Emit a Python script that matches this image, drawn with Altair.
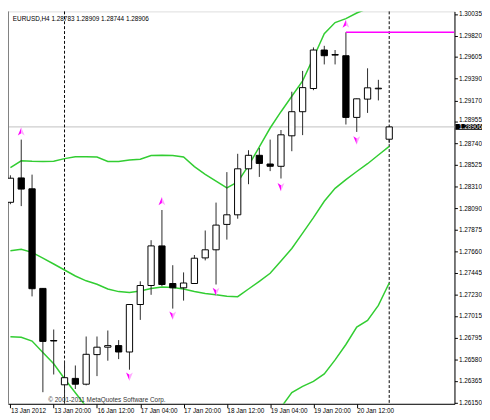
import json
import altair as alt
import pandas as pd

# ---------------- data ----------------
bar_index = list(range(36))
opens = [1.28152, 1.28396, 1.28287, 1.27291, 1.26770, 1.26327, 1.26391, 1.26333, 1.26629, 1.26703,
         1.26719, 1.26655, 1.27130, 1.27320, 1.27716, 1.27340, 1.27297, 1.27340, 1.27596, 1.27677,
         1.27931, 1.28027, 1.28487, 1.28622, 1.28535, 1.28512, 1.28817, 1.29058, 1.29290, 1.29675,
         1.29630, 1.29618, 1.29001, 1.29184, 1.29287, 1.28783]
highs = [1.28422, 1.28779, 1.28429, 1.27294, 1.26880, 1.26565, 1.26520, 1.26810, 1.26810, 1.26870,
         1.26774, 1.27135, 1.27362, 1.27773, 1.28075, 1.27523, 1.27451, 1.27625, 1.27870, 1.28149,
         1.28454, 1.28637, 1.28673, 1.28695, 1.28779, 1.28875, 1.29258, 1.29466, 1.29701, 1.29717,
         1.29675, 1.29852, 1.29190, 1.29492, 1.29377, 1.28909]
lows = [1.28133, 1.28114, 1.27211, 1.26253, 1.26430, 1.26130, 1.26285, 1.26321, 1.26414, 1.26568,
        1.26584, 1.26478, 1.26976, 1.27227, 1.27314, 1.27089, 1.27169, 1.27335, 1.27571, 1.27330,
        1.27779, 1.27988, 1.28333, 1.28406, 1.28464, 1.28390, 1.28663, 1.28824, 1.29273, 1.29531,
        1.29531, 1.28930, 1.28856, 1.29046, 1.29171, 1.28744]
closes = [1.28393, 1.28284, 1.27288, 1.26761, 1.26765, 1.26398, 1.26333, 1.26632, 1.26703, 1.26719,
          1.26655, 1.27130, 1.27320, 1.27716, 1.27330, 1.27297, 1.27345, 1.27593, 1.27677, 1.27924,
          1.28027, 1.28487, 1.28622, 1.28541, 1.28512, 1.28827, 1.29058, 1.29299, 1.29675, 1.29618,
          1.29624, 1.29001, 1.29187, 1.29297, 1.29293, 1.28906]

upper_band = [1.28499, 1.28567, 1.28562, 1.28560, 1.28562, 1.28589, 1.28608, 1.28608, 1.28605, 1.28560,
              1.28560, 1.28576, 1.28583, 1.28620, 1.28622, 1.28620, 1.28605, 1.28509, 1.28432, 1.28364,
              1.28297, 1.28355, 1.28519, 1.28707, 1.28895, 1.29058, 1.29213, 1.29367, 1.29598, 1.29839,
              1.29950, 1.29989, 1.30045, 1.30090, 1.30119, 1.30148]
middle_band = [1.27667, 1.27683, 1.27651, 1.27593, 1.27535, 1.27475, 1.27415, 1.27367, 1.27333, 1.27285,
               1.27259, 1.27249, 1.27265, 1.27290, 1.27304, 1.27299, 1.27285, 1.27261, 1.27241, 1.27227,
               1.27212, 1.27208, 1.27285, 1.27362, 1.27442, 1.27564, 1.27690, 1.27844, 1.27998, 1.28162,
               1.28292, 1.28379, 1.28460, 1.28538, 1.28625, 1.28711]
lower_band = [1.26808, 1.26803, 1.26764, 1.26649, 1.26538, 1.26388, 1.26248, 1.26109, 1.26061, 1.26010,
              1.25958, 1.25922, 1.25947, 1.25960, 1.25986, 1.25978, 1.25965, 1.26013, 1.26050, 1.26090,
              1.26100, 1.26061, 1.26051, 1.26017, 1.25989, 1.26100, 1.26250, 1.26311, 1.26361, 1.26436,
              1.26576, 1.26730, 1.26904, 1.26971, 1.27121, 1.27345]

up_arrow_bars = [1, 14, 31]
up_arrow_prices = [1.28856, 1.28159, 1.29933]
down_arrow_bars = [11, 15, 19, 25, 32]
down_arrow_prices = [1.26414, 1.27024, 1.27261, 1.28309, 1.28776]

separator_bars = [5, 35]
resistance_bar = 31
resistance_price = 1.29852
current_price = 1.28906

x_tick_bars = [0, 4, 8, 12, 16, 20, 24, 28, 32]
x_tick_labels = ["13 Jan 2012", "13 Jan 20:00", "16 Jan 12:00", "17 Jan 04:00", "17 Jan 20:00",
                 "18 Jan 12:00", "19 Jan 04:00", "19 Jan 20:00", "20 Jan 12:00"]
y_tick_values = [1.30035, 1.29820, 1.29605, 1.29390, 1.29170, 1.28955, 1.28740, 1.28525, 1.28310,
                 1.28090, 1.27875, 1.27660, 1.27445, 1.27230, 1.27015, 1.26795, 1.26580, 1.26365,
                 1.26150]

symbol = "EURUSD,H4"
copyright_text = "\u00a9 2001-2011 MetaQuotes Software Corp."

# ---------------- layout / style ----------------
X_MIN, X_MAX = -0.223, 41.03
Y_MIN, Y_MAX = 1.26137, 1.30061
W, H = 454, 399
FONT = "Liberation Sans"
FS = 6.5
GREEN = "#32CD32"
MAGENTA = "#FF00FF"

xs = alt.Scale(domain=[X_MIN, X_MAX], nice=False, zero=False)
ys = alt.Scale(domain=[Y_MIN, Y_MAX], nice=False, zero=False)

x_axis = alt.Axis(values=x_tick_bars, tickCount=60,
                  labelExpr=f"{json.dumps(x_tick_labels)}[round(datum.value/4)]",
                  labelAlign="left", labelBaseline="top", labelFont=FONT, labelFontSize=FS,
                  labelColor="black", tickColor="black", domainColor="black", tickSize=4,
                  labelPadding=0, grid=False, title=None, labelFlush=False, labelOverlap=False,
                  orient="bottom")
# the tick label just above the current-price box is nudged up so the two do not collide
y_axis = alt.Axis(orient="right", values=y_tick_values, tickCount=60, format=".5f", labelFont=FONT,
                  labelFontSize=FS, labelColor="black", tickColor="black", domainColor="black",
                  tickSize=3, labelPadding=1, grid=False, title=None, labelFlush=False,
                  labelOverlap=False, labelBaseline="middle",
                  labelOffset={"condition": {"test": f"abs(datum.value - {current_price}) < 0.0007",
                                             "value": -3}, "value": 0})

candles = pd.DataFrame({"i": bar_index, "open": opens, "high": highs, "low": lows, "close": closes})

bands = pd.concat([
    pd.DataFrame({"i": bar_index, "v": upper_band, "band": "upper"}),
    pd.DataFrame({"i": bar_index, "v": middle_band, "band": "middle"}),
    pd.DataFrame({"i": bar_index, "v": lower_band, "band": "lower"}),
])

price_line = alt.Chart(pd.DataFrame({"p": [current_price]})).mark_rule(
    color="#C0C0C0", strokeWidth=1).encode(
    y=alt.Y("p:Q", scale=ys, axis=y_axis))

left_border = alt.Chart(pd.DataFrame({"a": [0]})).mark_rule(color="#808080").encode(
    x=alt.value(0.5))

separators = alt.Chart(pd.DataFrame({"i": separator_bars})).mark_rule(
    color="black", strokeWidth=1, strokeDash=[3, 2]).encode(
    x=alt.X("i:Q", scale=xs, axis=x_axis))

band_lines = alt.Chart(bands).mark_line(color=GREEN, strokeWidth=1.5, clip=True).encode(
    x=alt.X("i:Q", scale=xs, title=None),
    y=alt.Y("v:Q", scale=ys, title=None),
    detail="band:N")

wicks = alt.Chart(candles).mark_rule(color="#2a2a2a", strokeWidth=1, clip=True).encode(
    x=alt.X("i:Q", scale=xs, title=None),
    y=alt.Y("low:Q", scale=ys, title=None),
    y2="high:Q")

bodies = alt.Chart(candles).transform_calculate(
    xa="datum.i - 0.29", xb="datum.i + 0.29").mark_rect(
    stroke="black", strokeWidth=1, clip=True).encode(
    x=alt.X("xa:Q", scale=xs, title=None), x2="xb:Q",
    y=alt.Y("open:Q", scale=ys, title=None), y2="close:Q",
    fill=alt.condition("datum.close >= datum.open", alt.value("white"), alt.value("black")))

resistance = alt.Chart(pd.DataFrame({"i": [resistance_bar], "e": [X_MAX], "p": [resistance_price]})).mark_rule(
    color=MAGENTA, strokeWidth=1.5, clip=True).encode(
    x=alt.X("i:Q", scale=xs, title=None), x2="e:Q",
    y=alt.Y("p:Q", scale=ys, title=None))

up_df = pd.DataFrame({"i": up_arrow_bars, "p": up_arrow_prices})
down_df = pd.DataFrame({"i": down_arrow_bars, "p": down_arrow_prices})


def arrow(df, path, color):
    return alt.Chart(df).mark_point(shape=path, filled=True, size=85, opacity=1,
                                    fill=color, strokeWidth=0).encode(
        x=alt.X("i:Q", scale=xs, title=None),
        y=alt.Y("p:Q", scale=ys, title=None))


up_l = arrow(up_df, "M0,-1L-0.75,0.8L0,0.3Z", MAGENTA)
up_r = arrow(up_df, "M0,-1L0.75,0.8L0,0.3Z", "#FFA8FF")
dn_l = arrow(down_df, "M0,1L-0.75,-0.8L0,-0.3Z", MAGENTA)
dn_r = arrow(down_df, "M0,1L0.75,-0.8L0,-0.3Z", "#FFA8FF")

header = f"{symbol}  {opens[-1]:.5f} {highs[-1]:.5f} {lows[-1]:.5f} {closes[-1]:.5f}"
header_text = alt.Chart(pd.DataFrame({"t": [header]})).mark_text(
    align="left", baseline="alphabetic", font=FONT, fontSize=FS, color="black").encode(
    x=alt.value(4.9), y=alt.value(9.8), text="t:N")

copyright_mark = alt.Chart(pd.DataFrame({"t": [copyright_text]})).mark_text(
    align="left", baseline="alphabetic", font=FONT, fontSize=FS, color="#333333").encode(
    x=alt.value(41), y=alt.value(397), text="t:N")

price_box_df = pd.DataFrame({"p": [current_price]})
price_box = alt.Chart(price_box_df).transform_calculate(
    lo="datum.p - 0.00029", hi="datum.p + 0.00029").mark_rect(color="black").encode(
    y=alt.Y("lo:Q", scale=ys, title=None), y2="hi:Q",
    x=alt.value(W + 1), x2=alt.value(W + 28))
price_label = alt.Chart(price_box_df).mark_text(
    align="left", baseline="middle", font=FONT, fontSize=FS, color="white", dy=0.5).encode(
    y=alt.Y("p:Q", scale=ys, title=None),
    x=alt.value(W + 4.5), text=alt.Text("p:Q", format=".5f"))

chart = alt.layer(
    price_line, separators, left_border, band_lines, wicks, bodies, resistance,
    up_l, up_r, dn_l, dn_r, header_text, copyright_mark, price_box, price_label
).properties(
    width=W, height=H,
    autosize=alt.AutoSizeParams(type="none"),
    padding={"left": 0, "top": 0, "right": 28, "bottom": 13},
).configure_view(stroke=None).configure(background="white")

chart.save("out.html", embed_options={"renderer": "svg", "actions": False})
